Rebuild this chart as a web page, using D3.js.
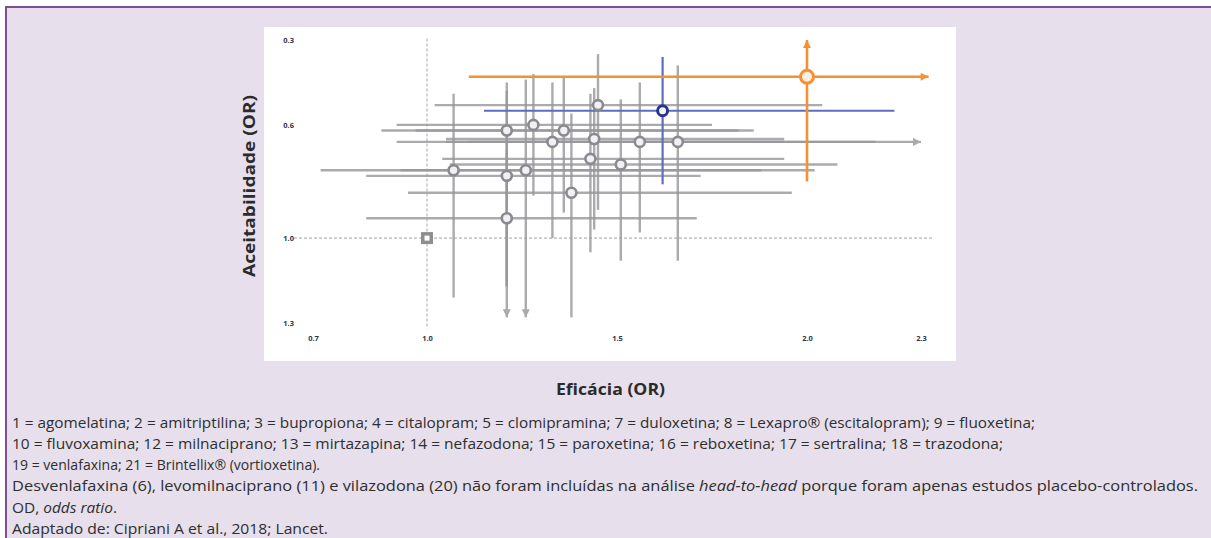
<!DOCTYPE html>
<html>
<head>
<meta charset="utf-8">
<script src="https://cdn.jsdelivr.net/npm/d3@7"></script>
<style>
  body { margin: 0; background: #fff; }
  svg { display: block; }
</style>
</head>
<body>
<svg id="chart" width="1211" height="538"></svg>
<script>
// efficacy (x) and acceptability (y) odds ratios with their intervals
var effOR = [1.45, 1.62, 2.00, 1.21, 1.28, 1.36, 1.33, 1.44, 1.56, 1.66, 1.43, 1.51, 1.07, 1.26, 1.21, 1.38, 1.21];
var effLo = [1.02, 1.15, 1.11, 0.88, 0.92, 0.97, 0.92, 1.05, 1.05, 1.11, 1.04, 1.06, 0.72, 0.93, 0.84, 0.95, 0.84];
var effHi = [2.04, 2.23, 2.32, 1.82, 1.75, 1.86, 1.94, 1.94, 2.18, 2.30, 1.94, 2.08, 2.02, 1.88, 1.72, 1.96, 1.71];
var accOR = [0.53, 0.55, 0.43, 0.62, 0.60, 0.62, 0.66, 0.65, 0.66, 0.66, 0.72, 0.74, 0.76, 0.76, 0.78, 0.84, 0.93];
var accLo = [0.35, 0.36, 0.30, 0.45, 0.42, 0.43, 0.45, 0.47, 0.45, 0.39, 0.49, 0.51, 0.49, 0.44, 0.48, 0.56, 0.69];
var accHi = [0.90, 0.81, 0.80, 1.17, 0.85, 0.91, 1.00, 0.97, 0.98, 1.08, 1.05, 1.08, 1.21, 1.28, 1.28, 1.28, 1.17];
var group = ['g', 'blue', 'orange', 'g', 'g', 'g', 'g', 'g', 'g', 'g', 'g', 'g', 'g', 'g', 'g', 'g', 'g'];
// which interval ends run off the chart (drawn with an arrow)
var arrowEffHi = [0, 0, 1, 0, 0, 0, 0, 0, 0, 1, 0, 0, 0, 0, 0, 0, 0];
var arrowAccLo = [0, 0, 1, 0, 0, 0, 0, 0, 0, 0, 0, 0, 0, 0, 0, 0, 0];
var arrowAccHi = [0, 0, 0, 0, 0, 0, 0, 0, 0, 0, 0, 0, 0, 1, 1, 0, 0];

var xTicks = [0.7, 1.0, 1.5, 2.0, 2.3];
var yTicks = [0.3, 0.6, 1.0, 1.3];
var refValue = 1.0;

var xTitle = 'Eficácia (OR)';
var yTitle = 'Aceitabilidade (OR)';

var footLines = [
  [['1 = agomelatina; 2 = amitriptilina; 3 = bupropiona; 4 = citalopram; 5 = clomipramina; 7 = duloxetina; 8 = Lexapro® (escitalopram); 9 = fluoxetina;', 0]],
  [['10 = fluvoxamina; 12 = milnaciprano; 13 = mirtazapina; 14 = nefazodona; 15 = paroxetina; 16 = reboxetina; 17 = sertralina; 18 = trazodona;', 0]],
  [['19 = venlafaxina; 21 = Brintellix® (vortioxetina).', 0]],
  [['Desvenlafaxina (6), levomilnaciprano (11) e vilazodona (20) não foram incluídas na análise ', 0], ['head-to-head', 1], [' porque foram apenas estudos placebo-controlados.', 0]],
  [['OD, ', 0], ['odds ratio', 1], ['.', 0]],
  [['Adaptado de: Cipriani A et al., 2018; Lancet.', 0]]
];

var colors = {
  g:      { line: '#97979c', stroke: '#8a8a8f', fill: '#eef1f6', r: 5,   sw: 2.6, lw: 2.4 },
  blue:   { line: '#5b6ec2', stroke: '#26368f', fill: '#f4f5fb', r: 5,   sw: 3,   lw: 2.2 },
  orange: { line: '#f39234', stroke: '#f39234', fill: '#fdeedf', r: 6.5, sw: 3,   lw: 2.6 }
};

var svg = d3.select('#chart');

// panel
svg.append('rect').attr('x', 5).attr('y', 6).attr('width', 1206).attr('height', 532)
  .style('fill', '#e7e0ec');
svg.append('line').attr('x1', 5).attr('x2', 1211).attr('y1', 7).attr('y2', 7)
  .style('stroke', '#7e4f90').style('stroke-width', 2);
svg.append('line').attr('x1', 6).attr('x2', 6).attr('y1', 6).attr('y2', 538)
  .style('stroke', '#7e4f90').style('stroke-width', 2);

// white plot box
svg.append('rect').attr('x', 264).attr('y', 27).attr('width', 692).attr('height', 334)
  .style('fill', '#fff');

var xScale = d3.scaleLinear().domain([0.7, 2.3]).range([313, 921]);
var yScale = d3.scaleLinear().domain([0.3, 1.3]).range([40, 323]);

// arrow heads
var defs = svg.append('defs');
['g', 'orange'].forEach(function(k) {
  defs.append('marker')
    .attr('id', 'arr-' + k)
    .attr('viewBox', '0 0 10 10')
    .attr('refX', 10).attr('refY', 5)
    .attr('markerUnits', 'userSpaceOnUse')
    .attr('markerWidth', 9).attr('markerHeight', 8)
    .attr('orient', 'auto')
    .append('path').attr('d', 'M0,0 L10,5 L0,10 z')
    .style('fill', colors[k].line);
});

// dotted reference lines at OR = 1
svg.append('line')
  .attr('x1', xScale(0.65)).attr('x2', xScale(2.33))
  .attr('y1', yScale(refValue)).attr('y2', yScale(refValue))
  .style('stroke', '#c9c9ce').style('stroke-width', 1.6).style('stroke-dasharray', '3,2');
svg.append('line')
  .attr('x1', xScale(refValue)).attr('x2', xScale(refValue))
  .attr('y1', yScale(0.295)).attr('y2', yScale(1.32))
  .style('stroke', '#c9c9ce').style('stroke-width', 1.6).style('stroke-dasharray', '3,2');

// axes (labels only)
var yAxis = d3.axisLeft(yScale).tickValues(yTicks).tickFormat(d3.format('.1f')).tickSize(0).tickPadding(0);
var xAxis = d3.axisBottom(xScale).tickValues(xTicks).tickFormat(d3.format('.1f')).tickSize(0).tickPadding(0);

var gy = svg.append('g').attr('transform', 'translate(294,0)').call(yAxis);
var gx = svg.append('g').attr('transform', 'translate(0,336)').call(xAxis);
[gx, gy].forEach(function(g) {
  g.select('.domain').remove();
  g.selectAll('text')
    .style('font-family', 'Open Sans, sans-serif')
    .style('font-size', '7.5px')
    .style('font-weight', 'bold')
    .style('fill', '#2f3350');
});

var idx = d3.range(effOR.length);
var order = ['g', 'blue', 'orange'];

order.forEach(function(grp) {
  var sel = idx.filter(function(i) { return group[i] === grp; });
  var c = colors[grp];
  var lg = svg.append('g').attr('class', 'ci-' + grp);

  lg.selectAll('line.h').data(sel).join('line')
    .attr('class', 'h')
    .attr('x1', function(i) { return xScale(effLo[i]); })
    .attr('x2', function(i) { return xScale(effHi[i]); })
    .attr('y1', function(i) { return yScale(accOR[i]); })
    .attr('y2', function(i) { return yScale(accOR[i]); })
    .style('stroke', c.line).style('stroke-width', c.lw)
    .style('opacity', grp === 'g' ? 0.8 : 1)
    .attr('marker-end', function(i) { return arrowEffHi[i] ? 'url(#arr-' + grp + ')' : null; });

  // vertical intervals drawn from the OR outwards so that arrows point the right way
  lg.selectAll('line.vup').data(sel).join('line')
    .attr('class', 'vup')
    .attr('x1', function(i) { return xScale(effOR[i]); })
    .attr('x2', function(i) { return xScale(effOR[i]); })
    .attr('y1', function(i) { return yScale(accOR[i]); })
    .attr('y2', function(i) { return yScale(accLo[i]); })
    .style('stroke', c.line).style('stroke-width', c.lw)
    .style('opacity', grp === 'g' ? 0.8 : 1)
    .attr('marker-end', function(i) { return arrowAccLo[i] ? 'url(#arr-' + grp + ')' : null; });

  lg.selectAll('line.vdn').data(sel).join('line')
    .attr('class', 'vdn')
    .attr('x1', function(i) { return xScale(effOR[i]); })
    .attr('x2', function(i) { return xScale(effOR[i]); })
    .attr('y1', function(i) { return yScale(accOR[i]); })
    .attr('y2', function(i) { return yScale(accHi[i]); })
    .style('stroke', c.line).style('stroke-width', c.lw)
    .style('opacity', grp === 'g' ? 0.8 : 1)
    .attr('marker-end', function(i) { return arrowAccHi[i] ? 'url(#arr-' + grp + ')' : null; });
});

// markers on top
order.forEach(function(grp) {
  var sel = idx.filter(function(i) { return group[i] === grp; });
  var c = colors[grp];
  svg.append('g').selectAll('circle').data(sel).join('circle')
    .attr('cx', function(i) { return xScale(effOR[i]); })
    .attr('cy', function(i) { return yScale(accOR[i]); })
    .attr('r', c.r)
    .style('fill', c.fill)
    .style('stroke', c.stroke)
    .style('stroke-width', c.sw);
});

// placebo reference square
svg.append('rect')
  .attr('x', xScale(refValue) - 6).attr('y', yScale(refValue) - 6)
  .attr('width', 12).attr('height', 12)
  .style('fill', '#8d8d92');
svg.append('rect')
  .attr('x', xScale(refValue) - 2.5).attr('y', yScale(refValue) - 2.5)
  .attr('width', 5).attr('height', 5)
  .style('fill', '#fff');

// axis titles
svg.append('text')
  .attr('x', 556).attr('y', 395)
  .attr('textLength', 109).attr('lengthAdjust', 'spacingAndGlyphs')
  .style('font-family', 'Open Sans, sans-serif')
  .style('font-size', '16.5px').style('font-weight', 'bold').style('fill', '#2b2b2b')
  .text(xTitle);
svg.append('text')
  .attr('transform', 'translate(255,277) rotate(-90)')
  .attr('textLength', 182).attr('lengthAdjust', 'spacingAndGlyphs')
  .style('font-family', 'Open Sans, sans-serif')
  .style('font-size', '16.5px').style('font-weight', 'bold').style('fill', '#2b2b2b')
  .text(yTitle);

// footnotes (condensed face approximated by fitting each line to its width)
var footY = [428, 449, 470, 491, 513, 534];
var footEnd = [1035, 1003, 320, 1198, 117, 328];
var foot = svg.append('g')
  .style('font-family', 'Open Sans, sans-serif')
  .style('font-size', '15px')
  .style('fill', '#2e2e2e');

footLines.forEach(function(parts, li) {
  var t = foot.append('text').attr('x', 12).attr('y', footY[li])
    .attr('textLength', footEnd[li] - 12).attr('lengthAdjust', 'spacingAndGlyphs');
  parts.forEach(function(p) {
    t.append('tspan').style('font-style', p[1] ? 'italic' : 'normal').text(p[0]);
  });
});
</script>
</body>
</html>
